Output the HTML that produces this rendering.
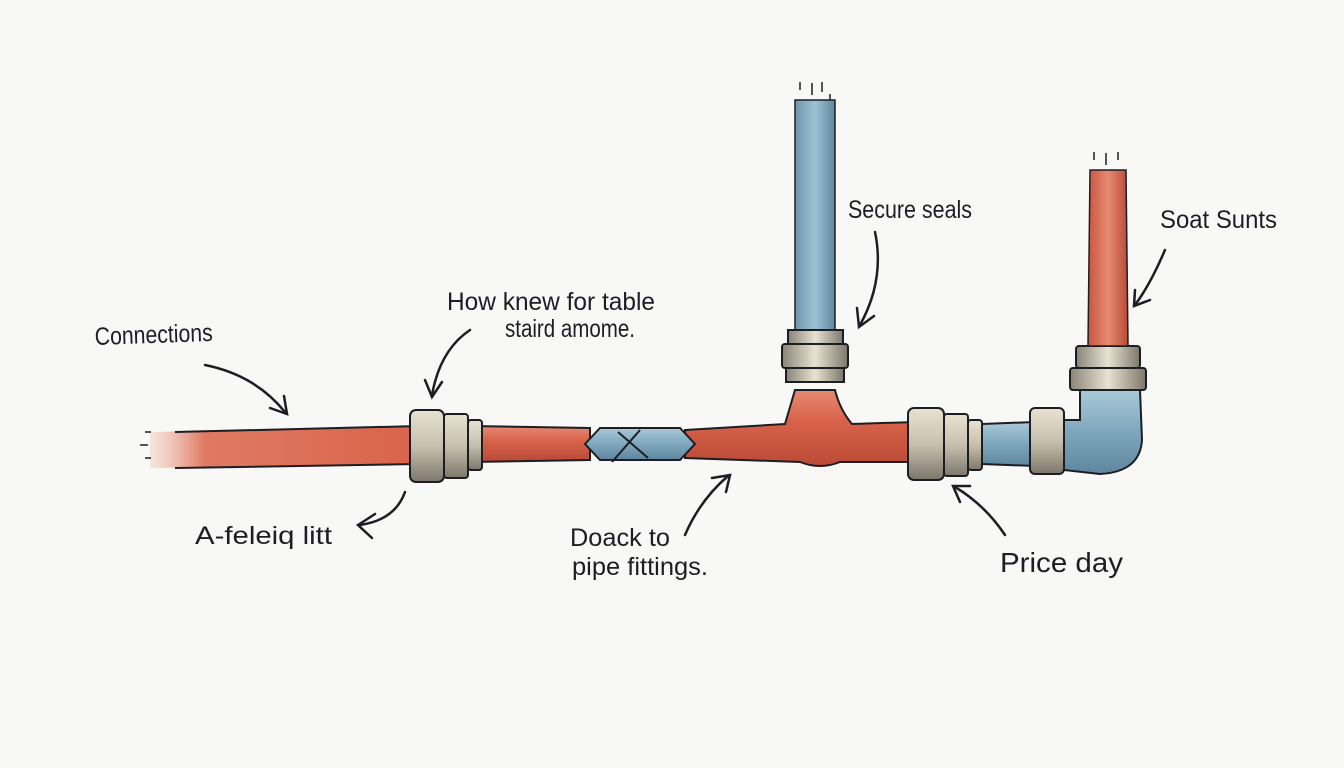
<!DOCTYPE html>
<html><head><meta charset="utf-8"><style>
html,body{margin:0;padding:0;background:#f8f8f6;}
svg{display:block}
text{font-family:"Liberation Sans",sans-serif;fill:#1d1d24;}
</style></head><body>
<svg width="1344" height="768" viewBox="0 0 1344 768" xmlns="http://www.w3.org/2000/svg">
<defs>
<linearGradient id="red" x1="0" y1="0" x2="0" y2="1"><stop offset="0" stop-color="#e58a74"/><stop offset="0.4" stop-color="#d9634a"/><stop offset="1" stop-color="#b94a36"/></linearGradient>
<linearGradient id="redfade" x1="0" y1="0" x2="1" y2="0"><stop offset="0" stop-color="#f3c5b8" stop-opacity="0.4"/><stop offset="0.2" stop-color="#e07a62"/><stop offset="1" stop-color="#d9634a"/></linearGradient>
<linearGradient id="blue" x1="0" y1="0" x2="0" y2="1"><stop offset="0" stop-color="#a9c9d8"/><stop offset="0.5" stop-color="#7ea7bd"/><stop offset="1" stop-color="#5e869e"/></linearGradient>
<linearGradient id="blueV" x1="0" y1="0" x2="1" y2="0"><stop offset="0" stop-color="#6d97ad"/><stop offset="0.5" stop-color="#9cc2d3"/><stop offset="1" stop-color="#5f879e"/></linearGradient>
<linearGradient id="redV" x1="0" y1="0" x2="1" y2="0"><stop offset="0" stop-color="#c8553f"/><stop offset="0.5" stop-color="#e68a72"/><stop offset="1" stop-color="#b94a36"/></linearGradient>
<linearGradient id="metal" x1="0" y1="0" x2="1" y2="0"><stop offset="0" stop-color="#8a8478"/><stop offset="0.5" stop-color="#e8e2d2"/><stop offset="1" stop-color="#7d776b"/></linearGradient>
<linearGradient id="metalH" x1="0" y1="0" x2="0" y2="1"><stop offset="0" stop-color="#e8e2d2"/><stop offset="0.5" stop-color="#c8c0ae"/><stop offset="1" stop-color="#7d776b"/></linearGradient>
</defs>
<g stroke="#1d1d24" stroke-width="2">
<path d="M150 432 L420 426 L420 464 L150 468 Z" fill="url(#redfade)" stroke="none"/>
<path d="M175 432 L420 426 M175 468 L420 464" fill="none"/>
<path d="M470 426 L590 428 L590 460 L470 462 Z" fill="url(#red)"/>
<path d="M685 430 L785 424 Q792 400 795 390 L835 390 Q840 410 852 424 L915 422 L915 462 L840 462 Q820 470 800 462 L685 458 Z" fill="url(#red)"/>
<rect x="795" y="100" width="40" height="232" fill="url(#blueV)" stroke-width="1.5"/>
<rect x="788" y="330" width="55" height="14" fill="url(#metal)"/>
<rect x="782" y="344" width="66" height="24" rx="3" fill="url(#metal)"/>
<rect x="786" y="368" width="58" height="14" fill="url(#metal)"/>
<rect x="410" y="410" width="34" height="72" rx="6" fill="url(#metalH)"/>
<rect x="444" y="414" width="24" height="64" rx="3" fill="url(#metalH)"/>
<rect x="468" y="420" width="14" height="50" rx="3" fill="url(#metalH)"/>
<path d="M585 444 L600 428 L680 428 L695 444 L680 460 L600 460 Z" fill="url(#blue)"/>
<path d="M618 432 L648 458 M640 430 L612 462" fill="none"/>
<rect x="908" y="408" width="36" height="72" rx="6" fill="url(#metalH)"/>
<rect x="944" y="414" width="24" height="62" rx="3" fill="url(#metalH)"/>
<rect x="968" y="420" width="14" height="50" rx="3" fill="url(#metalH)"/>
<path d="M982 424 L1035 422 L1035 466 L982 464 Z" fill="url(#blue)"/>
<rect x="1030" y="408" width="34" height="66" rx="5" fill="url(#metalH)"/>
<path d="M1064 420 L1080 420 L1080 390 L1140 390 L1142 440 Q1140 472 1100 474 L1064 470 Z" fill="url(#blue)"/>
<rect x="1070" y="368" width="76" height="22" rx="3" fill="url(#metal)"/>
<rect x="1076" y="346" width="64" height="22" rx="3" fill="url(#metal)"/>
<path d="M1090 170 L1126 170 L1128 346 L1088 346 Z" fill="url(#redV)" stroke-width="1.5"/>
</g>
<g stroke="#1d1d24" stroke-width="1.5">
<path d="M800 90 l0 -8 M812 95 l0 -12 M822 92 l0 -10 M830 100 l0 -6 M1094 160 l0 -8 M1106 165 l0 -12 M1118 160 l0 -8 M145 432 l6 0 M140 445 l8 0 M145 458 l6 0"/>
</g>
<g fill="none" stroke="#1d1d24" stroke-width="2.5" stroke-linecap="round">
<path d="M205 365 Q255 375 285 412"/><path d="M270 408 L287 414 L284 396"/>
<path d="M470 330 Q440 350 432 395"/><path d="M425 380 L432 397 L442 382"/>
<path d="M875 232 Q885 280 860 325"/><path d="M857 308 L859 327 L874 316"/>
<path d="M1165 250 Q1150 285 1135 305"/><path d="M1135 290 L1134 306 L1150 300"/>
<path d="M405 492 Q395 520 360 525"/><path d="M375 514 L358 525 L372 538"/>
<path d="M685 535 Q700 500 728 476"/><path d="M712 478 L730 475 L726 492"/>
<path d="M1005 535 Q985 505 955 487"/><path d="M970 486 L953 486 L960 502"/>
</g>
<g font-size="25">
<text x="95" y="345" transform="rotate(-2 95 345)" textLength="118" lengthAdjust="spacingAndGlyphs">Connections</text>
<text x="447" y="310" textLength="208" lengthAdjust="spacingAndGlyphs">How knew for table</text>
<text x="505" y="337" textLength="130" lengthAdjust="spacingAndGlyphs">staird amome.</text>
<text x="848" y="218" textLength="124" lengthAdjust="spacingAndGlyphs">Secure seals</text>
<text x="1160" y="228" textLength="117" lengthAdjust="spacingAndGlyphs">Soat Sunts</text>
<text x="195" y="544" textLength="137" lengthAdjust="spacingAndGlyphs">A-feleiq litt</text>
<text x="570" y="546" textLength="100" lengthAdjust="spacingAndGlyphs">Doack to</text>
<text x="572" y="575" textLength="136" lengthAdjust="spacingAndGlyphs">pipe fittings.</text>
<text x="1000" y="572" font-size="28" textLength="123" lengthAdjust="spacingAndGlyphs">Price day</text>
</g>
</svg>
</body></html>
